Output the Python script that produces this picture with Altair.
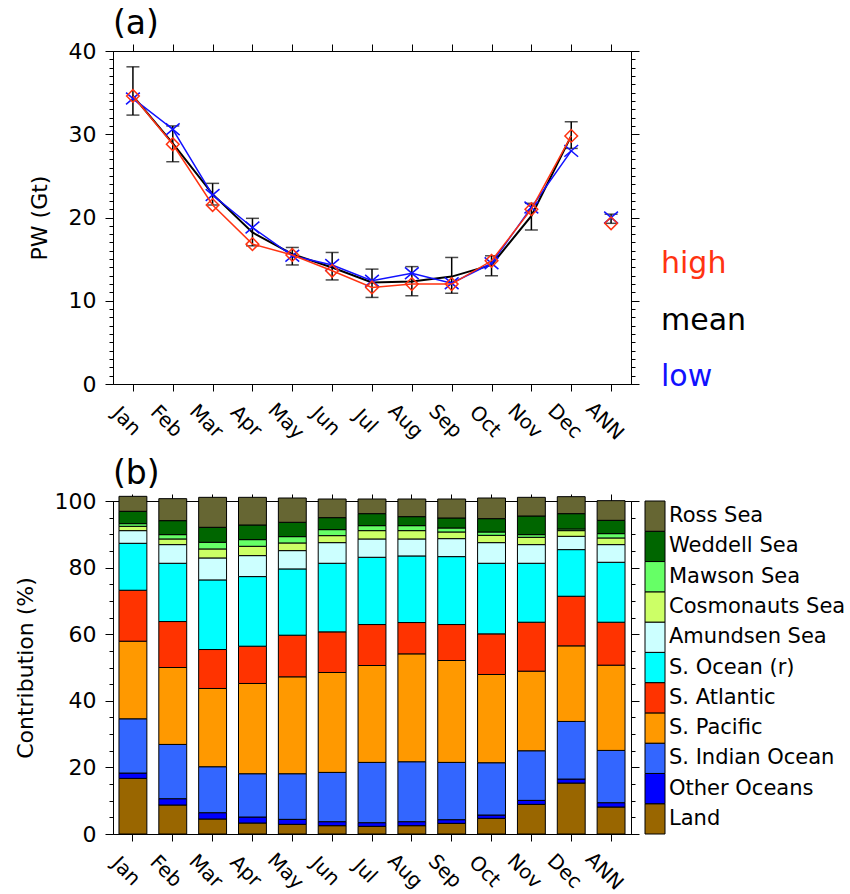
import altair as alt
import pandas as pd

FONT = "DejaVu Sans"
RED = "#FF3311"
BLUE = "#1111FF"

# ---------------- data ----------------
months = ["Jan", "Feb", "Mar", "Apr", "May", "Jun", "Jul", "Aug", "Sep", "Oct", "Nov", "Dec", "ANN"]

pw_mean = [34.6, 28.9, 22.8, 18.2, 15.6, 14.0, 12.2, 12.3, 12.9, 14.3, 20.2, 29.8, 19.9]
pw_err_lo = [32.3, 26.7, 21.5, 16.6, 14.3, 12.5, 10.4, 10.6, 10.9, 13.0, 18.5, 28.3, 19.3]
pw_err_hi = [38.1, 31.0, 24.1, 19.9, 16.4, 15.8, 13.8, 14.1, 15.2, 15.4, 21.7, 31.5, 20.4]
pw_high = [34.6, 28.8, 21.5, 16.8, 15.5, 13.6, 11.6, 12.0, 12.0, 14.8, 21.0, 29.8, 19.3]
pw_low = [34.3, 30.6, 22.7, 18.8, 15.4, 14.3, 12.4, 13.3, 12.1, 14.5, 21.2, 28.0, 20.0]

legend_a = ["high", "mean", "low"]

# bottom -> top stacking order
regions = ["Land", "Other Oceans", "S. Indian Ocean", "S. Pacific", "S. Atlantic",
           "S. Ocean (r)", "Amundsen Sea", "Cosmonauts Sea", "Mawson Sea",
           "Weddell Sea", "Ross Sea"]
region_colors = ["#996600", "#0000FF", "#3366FF", "#FF9900", "#FF3300",
                 "#00FFFF", "#CCFFFF", "#CCFF66", "#66FF66", "#006600", "#666633"]

land = [16.7, 8.7, 4.5, 3.3, 2.9, 2.5, 2.3, 2.5, 3.2, 4.7, 8.9, 15.3, 8.1]
other = [1.6, 1.9, 1.9, 1.8, 1.5, 1.2, 1.1, 1.2, 1.1, 1.0, 1.2, 1.2, 1.3]
s_indian = [16.3, 16.3, 13.8, 13.0, 13.7, 14.8, 18.1, 18.0, 17.2, 15.7, 14.9, 17.3, 15.7]
s_pacific = [23.3, 23.1, 23.5, 27.1, 29.1, 30.0, 29.1, 32.4, 30.6, 26.5, 23.9, 22.7, 25.6]
s_atlantic = [15.3, 13.8, 11.7, 11.2, 12.5, 12.2, 12.3, 9.4, 10.8, 12.2, 14.7, 14.9, 12.9]
s_ocean = [14.1, 17.5, 20.9, 20.9, 19.9, 20.6, 20.2, 20.0, 20.4, 21.2, 17.7, 14.0, 18.0]
amundsen = [3.8, 5.6, 6.6, 6.3, 5.5, 6.2, 5.5, 5.1, 5.4, 6.2, 5.6, 4.0, 5.3]
cosmonauts = [1.3, 1.7, 2.7, 2.8, 2.3, 2.1, 2.5, 2.5, 2.0, 2.2, 2.2, 1.7, 2.0]
mawson = [0.8, 1.3, 2.0, 2.0, 1.9, 1.8, 1.5, 1.5, 1.2, 1.0, 0.8, 0.5, 1.3]
weddell = [3.7, 4.2, 4.5, 4.4, 4.3, 3.6, 3.6, 2.7, 3.0, 4.0, 5.6, 4.6, 4.0]
ross = [4.5, 6.6, 9.0, 8.3, 7.3, 5.6, 4.4, 5.3, 5.7, 6.2, 5.6, 5.1, 5.9]

series = [land, other, s_indian, s_pacific, s_atlantic, s_ocean,
          amundsen, cosmonauts, mawson, weddell, ross]

# ---------------- tables ----------------
df_pw = pd.DataFrame(dict(month=months, mean=pw_mean, lo=pw_err_lo, hi=pw_err_hi,
                          high=pw_high, low=pw_low))
df_pw_line = df_pw[df_pw["month"] != "ANN"]
df_ax = pd.DataFrame(dict(month=months, v=[0] * len(months)))

rows = []
for i, (name, vals) in enumerate(zip(regions, series)):
    for m, v in zip(months, vals):
        rows.append(dict(month=m, region=name, value=v, idx=i))
df_bar = pd.DataFrame(rows)

W = 518
H = 333
NOVIEW = alt.ViewBackground(stroke="transparent", strokeOpacity=0)

AX = dict(domainColor="black", tickColor="black", labelColor="black",
          titleColor="black", labelFont=FONT, titleFont=FONT, grid=False,
          domainWidth=1, tickWidth=1, minExtent=0)


def x_bottom():
    return alt.Axis(orient="bottom", title=None, labelAngle=45, labelAlign="center",
                    labelBaseline="middle", labelPadding=30, labelOffset=-7,
                    labelFontSize=20, tickSize=7, **AX)


def y_left(vals, title):
    return alt.Axis(orient="left", values=vals, tickSize=8, labelPadding=9,
                    labelFontSize=22, title=title, titleFontSize=22,
                    titleFontWeight="normal", titlePadding=17, **AX)


def axis_layers(xscale, yscale, major, minor):
    base = alt.Chart(df_ax).mark_point(opacity=0)
    minor_left = base.encode(
        x=alt.X("month:N", scale=xscale, axis=None),
        y=alt.Y("v:Q", scale=yscale,
                axis=alt.Axis(orient="left", values=minor, labels=False, tickSize=4,
                              title=None, **AX)))
    mirror = base.encode(
        x=alt.X("month:N", scale=xscale,
                axis=alt.Axis(orient="top", labels=False, title=None, tickSize=7, **AX)),
        y=alt.Y("v:Q", scale=yscale,
                axis=alt.Axis(orient="right", values=major, labels=False, tickSize=8,
                              title=None, **AX)))
    minor_right = base.encode(
        x=alt.X("month:N", scale=xscale, axis=None),
        y=alt.Y("v:Q", scale=yscale,
                axis=alt.Axis(orient="right", values=minor, labels=False, tickSize=4,
                              title=None, **AX)))
    return [minor_left, mirror, minor_right]


def panel_title(t):
    return alt.TitleParams(t, anchor="start", frame="group", fontSize=33, font=FONT,
                           fontWeight="normal", offset=-34, baseline="bottom", color="black")


# ---------------- panel (a) ----------------
x_a = alt.Scale(type="point", domain=months, padding=0.5)
y_a = alt.Scale(domain=[0, 40], nice=False, zero=False)

base_a = alt.Chart(df_pw)
xa = alt.X("month:N", scale=x_a, axis=None)

err = base_a.mark_rule(color="black", strokeWidth=1.5).encode(
    x=alt.X("month:N", scale=x_a, axis=x_bottom()),
    y=alt.Y("lo:Q", scale=y_a, axis=y_left(list(range(0, 41, 10)), "PW (Gt)")),
    y2="hi:Q")
cap_hi = base_a.mark_tick(color="black", orient="horizontal", size=13, thickness=1.5).encode(
    x=xa, y=alt.Y("hi:Q", scale=y_a, axis=None))
cap_lo = base_a.mark_tick(color="black", orient="horizontal", size=13, thickness=1.5).encode(
    x=xa, y=alt.Y("lo:Q", scale=y_a, axis=None))
mean_line = alt.Chart(df_pw_line).mark_line(color="black", strokeWidth=2).encode(
    x=xa, y=alt.Y("mean:Q", scale=y_a, axis=None))
low_line = alt.Chart(df_pw_line).mark_line(color=BLUE, strokeWidth=1.5).encode(
    x=xa, y=alt.Y("low:Q", scale=y_a, axis=None))
low_pts = base_a.mark_point(shape="M-1,-0.85L1,0.85M-1,0.85L1,-0.85", size=190,
                            color=BLUE, filled=False, strokeWidth=1.5, opacity=1).encode(
    x=xa, y=alt.Y("low:Q", scale=y_a, axis=None))
high_line = alt.Chart(df_pw_line).mark_line(color=RED, strokeWidth=1.5).encode(
    x=xa, y=alt.Y("high:Q", scale=y_a, axis=None))
high_pts = base_a.mark_point(shape="diamond", size=160, color=RED, filled=False,
                             strokeWidth=1.5, opacity=1).encode(
    x=xa, y=alt.Y("high:Q", scale=y_a, axis=None))

panel_a = alt.layer(err, cap_hi, cap_lo, mean_line, low_line, low_pts, high_line, high_pts,
                    *axis_layers(x_a, y_a, list(range(0, 41, 10)), list(range(0, 41)))
                    ).resolve_axis(x="independent", y="independent").properties(
    width=W, height=H, title=panel_title("(a)"), view=NOVIEW)

df_lab = pd.DataFrame(dict(name=legend_a))
labels_a = alt.Chart(df_lab).mark_text(align="left", baseline="middle", fontSize=30,
                                       font=FONT, dx=-14).encode(
    y=alt.Y("name:N", scale=alt.Scale(type="point", domain=legend_a, range=[213, 326],
                                      padding=0), axis=None),
    color=alt.Color("name:N", scale=alt.Scale(domain=legend_a, range=[RED, "black", BLUE]),
                    legend=None),
    text="name:N").properties(width=60, height=H, view=NOVIEW)

# ---------------- panel (b) ----------------
x_b = alt.Scale(type="band", domain=months, paddingInner=0.3, paddingOuter=0.15)
y_b = alt.Scale(domain=[0, 100], nice=False, zero=False)
color_b = alt.Scale(domain=regions, range=region_colors)

bars = alt.Chart(df_bar).mark_bar(stroke="black", strokeWidth=1).encode(
    x=alt.X("month:N", scale=x_b, axis=x_bottom()),
    y=alt.Y("value:Q", stack="zero", scale=y_b,
            axis=y_left(list(range(0, 101, 20)), "Contribution (%)")),
    color=alt.Color("region:N", scale=color_b, legend=None),
    order=alt.Order("idx:Q", sort="ascending"))

panel_b = alt.layer(bars, *axis_layers(x_b, y_b, list(range(0, 101, 20)), list(range(0, 101, 5)))
                    ).resolve_axis(x="independent", y="independent").properties(
    width=W, height=H, title=panel_title("(b)"), view=NOVIEW)

df_leg = pd.DataFrame(dict(region=regions))
leg_y = alt.Scale(type="band", domain=regions[::-1], paddingInner=0, paddingOuter=0)
legend_rect = alt.Chart(df_leg).mark_rect(stroke="black", strokeWidth=1).encode(
    y=alt.Y("region:N", scale=leg_y, axis=None),
    color=alt.Color("region:N", scale=color_b, legend=None))
legend_text = alt.Chart(df_leg).mark_text(align="left", baseline="middle", dx=14,
                                          fontSize=21, font=FONT, color="black").encode(
    y=alt.Y("region:N", scale=leg_y, axis=None),
    text="region:N")
legend_b = alt.layer(legend_rect, legend_text).properties(width=20, height=H, view=NOVIEW)

chart = alt.concat(panel_a, labels_a, panel_b, legend_b, columns=2, bounds="flush",
                   spacing={"row": 117, "column": 14}).resolve_scale(
    color="independent").properties(
    padding={"left": 14, "top": 8, "right": 2, "bottom": 2}
).configure_view(stroke="transparent", strokeWidth=0).configure(font=FONT, background="white")

chart.save("out.html", embed_options={"renderer": "svg", "actions": False})
